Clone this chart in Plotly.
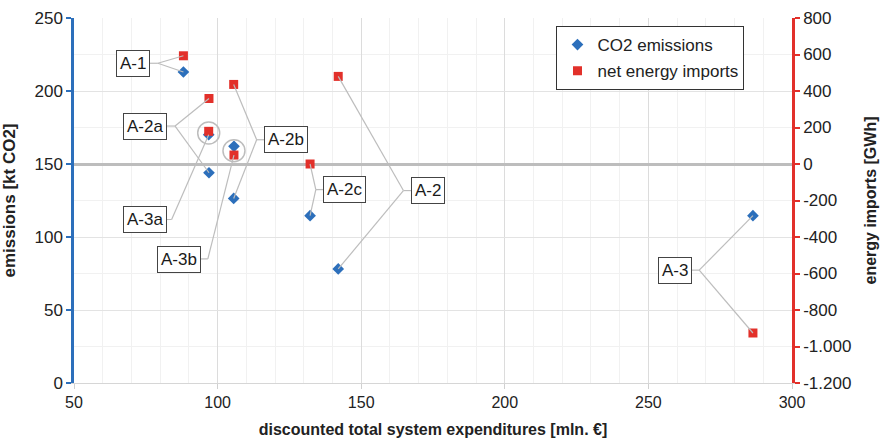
import plotly.graph_objects as go

# ---------------- data ----------------
scenarios = ["A-1", "A-2a", "A-3a", "A-2b", "A-3b", "A-2c", "A-2", "A-3"]
expenditures = [88.1, 97.0, 96.9, 105.6, 105.7, 132.2, 142.0, 286.4]      # mln. €
co2_emissions = [213.0, 144.0, 170.1, 126.4, 162.1, 114.6, 78.1, 114.6]   # kt CO2
net_imports = [593, 359, 179, 436, 49, 0, 480, -926]                      # GWh

y_ticks_left = [0, 50, 100, 150, 200, 250]
y_ticks_right = [-1200, -1000, -800, -600, -400, -200, 0, 200, 400, 600, 800]
y_ticktext_right = ["-1.200", "-1.000", "-800", "-600", "-400", "-200", "0",
                    "200", "400", "600", "800"]
x_ticks = [50, 100, 150, 200, 250, 300]

# ---------------- style / layout constants ----------------
BLUE = "#2C6FBB"
RED = "#E2302A"
LEADER = "#BDBDBD"
FONT = "Liberation Sans, Arial, sans-serif"

# label box centre and branch point (x in mln. €, y in left-axis units)
labels = {
    "A-1":  dict(box=(70.4, 219.0), branch=(79.2, 219.0)),
    "A-2a": dict(box=(74.8, 176.0), branch=(85.2, 176.0)),
    "A-2b": dict(box=(123.7, 166.6), branch=(113.6, 166.6)),
    "A-2c": dict(box=(144.3, 132.6), branch=(134.2, 132.5)),
    "A-2":  dict(box=(173.4, 131.8), branch=(164.7, 131.8)),
    "A-3a": dict(box=(74.8, 111.8), branch=(84.0, 112.0)),
    "A-3b": dict(box=(86.6, 84.9), branch=(96.6, 85.0)),
    "A-3":  dict(box=(259.3, 77.3), branch=(267.7, 77.3)),
}
# which points each label's leader lines reach
targets = {
    "A-1": [("co2", 0), ("imp", 0)],
    "A-2a": [("co2", 1), ("imp", 1)],
    "A-2b": [("co2", 3), ("imp", 3)],
    "A-2c": [("co2", 5), ("imp", 5)],
    "A-2": [("co2", 6), ("imp", 6)],
    "A-3a": [("co2", 2)],
    "A-3b": [("imp", 4)],
    "A-3": [("co2", 7), ("imp", 7)],
}
circled = [(2, 2), (4, 4)]  # (co2 index, imports index) pairs inside a circle


def imp_to_left(v):
    return (v + 1200) / 8.0


fig = go.Figure()
fig.add_trace(go.Scatter(
    x=expenditures, y=co2_emissions, mode="markers", name="CO2 emissions",
    marker=dict(symbol="diamond", size=9, color=BLUE),
    legendgroup="a", yaxis="y"))
fig.add_trace(go.Scatter(
    x=expenditures, y=net_imports, mode="markers", name="net energy imports",
    marker=dict(symbol="square", size=9, color=RED),
    legendgroup="b", yaxis="y2"))

shapes = []
annotations = []
for name, spec in labels.items():
    bx, by = spec["box"]
    rx, ry = spec["branch"]
    shapes.append(dict(type="line", xref="x", yref="y", x0=bx, y0=by, x1=rx, y1=ry,
                       line=dict(color=LEADER, width=1.2), layer="above"))
    for kind, i in targets[name]:
        if kind == "co2":
            tx, ty = expenditures[i], co2_emissions[i]
        else:
            tx, ty = expenditures[i], imp_to_left(net_imports[i])
        shapes.append(dict(type="line", xref="x", yref="y", x0=rx, y0=ry, x1=tx, y1=ty,
                           line=dict(color=LEADER, width=1.2), layer="above"))
    annotations.append(dict(
        x=bx, y=by, xref="x", yref="y", text=name, showarrow=False,
        font=dict(family=FONT, size=17, color="#1a1a1a"),
        bgcolor="white", bordercolor="#444444", borderwidth=1, borderpad=3))

for ci, ii in circled:
    cx = (expenditures[ci] + expenditures[ii]) / 2
    cy = (co2_emissions[ci] + imp_to_left(net_imports[ii])) / 2
    shapes.append(dict(type="circle", xref="x", yref="y",
                       xsizemode="pixel", ysizemode="pixel",
                       xanchor=cx, yanchor=cy, x0=-11, x1=11, y0=-11, y1=11,
                       line=dict(color=LEADER, width=1.5), layer="above"))

fig.update_layout(
    width=883, height=438,
    margin=dict(l=74, r=91, t=18, b=55, autoexpand=False),
    paper_bgcolor="white", plot_bgcolor="white",
    font=dict(family=FONT, size=16, color="#222222"),
    showlegend=True,
    legend=dict(x=0.672, y=0.978, xanchor="left", yanchor="top",
                bgcolor="white", bordercolor="#333333", borderwidth=1,
                font=dict(family=FONT, size=17, color="#222222"),
                itemwidth=30, tracegroupgap=1),
    xaxis=dict(
        range=[50, 300], tickvals=x_ticks, showgrid=True, gridcolor="#DCDCDC",
        gridwidth=1, zeroline=False, showline=True, linecolor="#D6D6D6", linewidth=1,
        ticks="outside", ticklen=5, tickcolor="#D0D0D0", automargin=False,
        minor=dict(dtick=10, showgrid=True, gridcolor="#F1F1F1", ticks=""),
        title=dict(text="<b>discounted total system expenditures [mln. €]</b>",
                   font=dict(family=FONT, size=16, color="#222222")),
        tickfont=dict(size=16)),
    yaxis=dict(
        range=[0, 250], tickvals=y_ticks_left, showgrid=True, gridcolor="#E3E3E3",
        zeroline=False, showline=True, linecolor=BLUE, linewidth=2.5,
        ticks="outside", ticklen=5, tickwidth=2, tickcolor=BLUE, automargin=False,
        minor=dict(dtick=25, showgrid=True, gridcolor="#F1F1F1", ticks=""),
        title=dict(text="<b>emissions [kt CO2]</b>",
                   font=dict(family=FONT, size=17, color="#222222")),
        tickfont=dict(size=17)),
    yaxis2=dict(
        range=[-1200, 800], tickvals=y_ticks_right, ticktext=y_ticktext_right,
        overlaying="y", side="right", anchor="x", showgrid=False, automargin=False,
        zeroline=True, zerolinecolor="#BDBDBD", zerolinewidth=2.5,
        showline=True, linecolor=RED, linewidth=2.5,
        ticks="outside", ticklen=5, tickwidth=2, tickcolor=RED,
        title=dict(text="<b>energy imports [GWh]</b>",
                   font=dict(family=FONT, size=16, color="#222222")),
        tickfont=dict(size=17)),
    yaxis3=dict(
        range=[0, 250], tickvals=y_ticks_left, overlaying="y", side="left", anchor="x",
        showgrid=False, zeroline=False, showline=False, showticklabels=False,
        automargin=False,
        ticks="inside", ticklen=5, tickwidth=2, tickcolor=BLUE),
    yaxis4=dict(
        range=[-1200, 800], tickvals=y_ticks_right, overlaying="y", side="right",
        anchor="x", showgrid=False, zeroline=False, showline=False, automargin=False,
        showticklabels=False, ticks="inside", ticklen=5, tickwidth=2, tickcolor=RED),
    shapes=shapes,
    annotations=annotations,
)

fig.write_html(
    "out.html",
    config={"displayModeBar": False},
    post_script="document.body.style.margin='0px';document.body.style.padding='0px';",
)
